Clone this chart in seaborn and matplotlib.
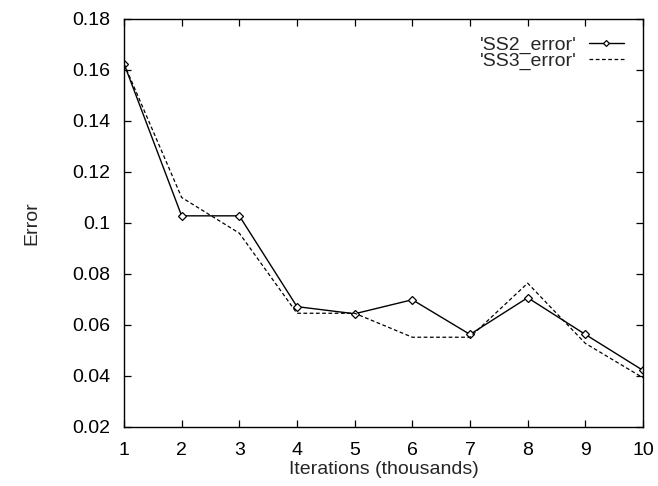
import numpy as np
import pandas as pd
import matplotlib
matplotlib.use("Agg")
from matplotlib import pyplot as plt
from matplotlib.ticker import FuncFormatter
import seaborn as sns

sns.set_style("ticks")
plt.rcParams['font.family'] = ['Liberation Sans', 'DejaVu Sans']

# data
iterations = [1, 2, 3, 4, 5, 6, 7, 8, 9, 10]
ss2_error = [0.1625, 0.1028, 0.1028, 0.0672, 0.0644, 0.0699, 0.0563, 0.0707, 0.0563, 0.0422]
ss3_error = [0.1625, 0.1100, 0.0960, 0.0646, 0.0646, 0.0552, 0.0552, 0.0764, 0.0528, 0.0393]

df2 = pd.DataFrame({'it': iterations, 'err': ss2_error})
df3 = pd.DataFrame({'it': iterations, 'err': ss3_error})

fig = plt.figure(figsize=(6.58, 4.86), dpi=100)
ax = fig.add_axes([0.1884, 0.1214, 0.7888, 0.8396])

sns.lineplot(data=df2, x='it', y='err', ax=ax, color='black', linewidth=1.0,
             marker='D', markersize=4, markerfacecolor='white',
             markeredgecolor='black', markeredgewidth=0.9,
             label="'SS2_error'")
sns.lineplot(data=df3, x='it', y='err', ax=ax, color='black', linewidth=0.9,
             linestyle=(0, (3, 2)), label="'SS3_error'")

ax.set_xlim(1, 10)
ax.set_ylim(0.02, 0.18)
ax.set_xticks(iterations)
ax.set_yticks(np.arange(0.02, 0.1801, 0.02))
ax.yaxis.set_major_formatter(FuncFormatter(lambda v, p: '%g' % round(v, 2)))
ax.tick_params(direction='in', top=True, right=True, length=5, width=0.9,
               labelsize=14, color='black', labelcolor='black')
ax.tick_params(axis='x', pad=10.5)
ax.tick_params(axis='y', pad=9.8)
for s in ax.spines.values():
    s.set_linewidth(1.0)
    s.set_color('black')

ax.set_xlabel('Iterations (thousands)', fontsize=14, labelpad=2)
ax.set_ylabel('Error', fontsize=14, labelpad=23)

leg = ax.legend(loc='upper right', bbox_to_anchor=(1 - 19 / 519, 1 - 17 / 408),
                frameon=False, markerfirst=False, fontsize=14,
                handlelength=1.8, handletextpad=0.65, labelspacing=-0.1,
                borderpad=0, borderaxespad=0)
leg.legend_handles[0].set_markersize(3)

plt.savefig('out.png', dpi=100)
